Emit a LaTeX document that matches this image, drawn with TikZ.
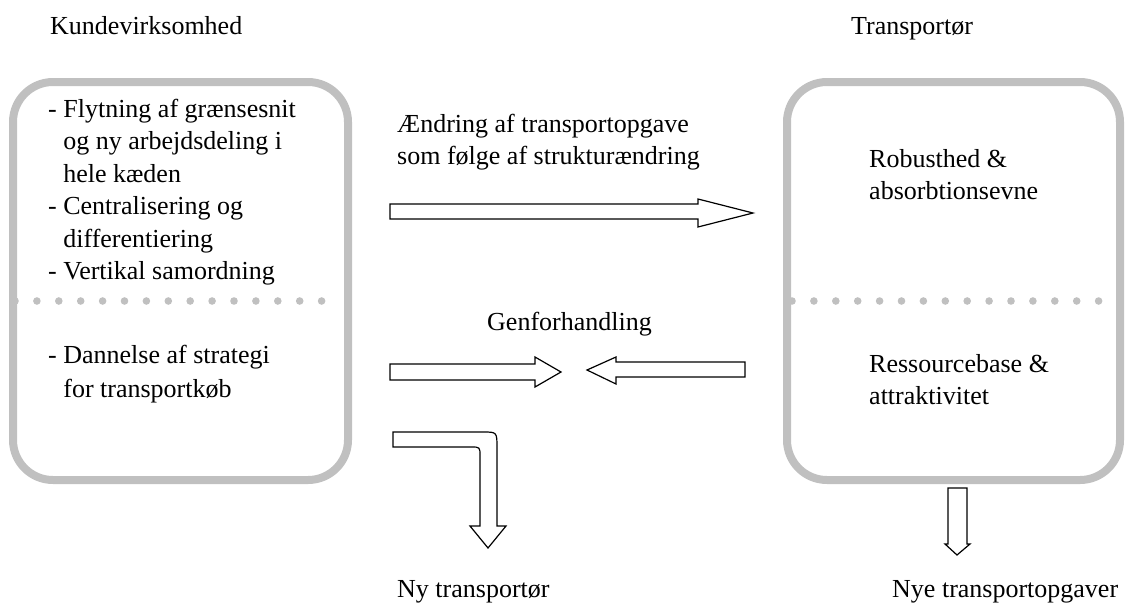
\documentclass[tikz,border=0pt]{standalone}
\usepackage{fontspec}
\setmainfont{Liberation Serif}
\usetikzlibrary{positioning}
\definecolor{panelgray}{HTML}{C0C0C0}

\begin{document}
\begin{tikzpicture}[
  x=1pt, y=-1pt,
  font=\fontsize{26}{32.5}\selectfont,
  panel/.style={draw=panelgray, line width=8pt, rounded corners=40pt, minimum width=335pt, minimum height=398pt, inner sep=0pt},
  txt/.style={anchor=base west, inner sep=0pt},
  blockarr/.style={draw=black, line width=1.2pt, fill=white, line join=miter}
]
\useasboundingbox (0,0) rectangle (1136,603);

% titles
\node[txt] (kundetitle) at (50,34) {Kundevirksomhed};
\node[txt] (transtitle) at (851,34) {Transportør};

% the two panels
\node[panel] (kunde) at (180.5,281) {};
\node[panel, minimum width=333pt] (trans) at (953.5,281) {};
\foreach \i in {0,...,14} {
  \fill[panelgray] ({15+21.9*\i},301) circle (3.8pt);
  \fill[panelgray] ({792+21.9*\i},301) circle (3.8pt);
}

% panel texts
\node[txt] (struktur) at (48,117) {\begin{tabular}[t]{@{}l@{}}
- Flytning af grænsesnit\\
\phantom{- }og ny arbejdsdeling i\\
\phantom{- }hele kæden\\
- Centralisering og\\
\phantom{- }differentiering\\
- Vertikal samordning
\end{tabular}};
\node[txt] (strategi) at (48,363) {\begin{tabular}[t]{@{}l@{}}
- Dannelse af strategi\\[2pt]
\phantom{- }for transportkøb
\end{tabular}};
\node[txt] (robust) at (869,167) {\begin{tabular}[t]{@{}l@{}}
Robusthed \&\\
absorbtionsevne
\end{tabular}};
\node[txt] (ressource) at (869,372) {\begin{tabular}[t]{@{}l@{}}
Ressourcebase \&\\
attraktivitet
\end{tabular}};

% arrow labels
\node[txt] (aendring) at (397,132) {\begin{tabular}[t]{@{}l@{}}
Ændring af transportopgave\\
som følge af strukturændring
\end{tabular}};
\node[txt] (genf) at (487,330) {Genforhandling};
\node[txt] (nytrans) at (397,597) {Ny transportør};
\node[txt] (nyeopg) at (892,597) {Nye transportopgaver};

% block arrows
\draw[blockarr] (390,204) -- (698,204) -- (698,199) -- (753,213) -- (698,227) -- (698,219) -- (390,219) -- cycle;
\draw[blockarr] (390,364) -- (535,364) -- (535,357) -- (561,372) -- (535,387) -- (535,380) -- (390,380) -- cycle;
\draw[blockarr] (745,362) -- (616,362) -- (616,357) -- (587,370) -- (616,384) -- (616,377) -- (745,377) -- cycle;
\draw[blockarr] (393,432) -- (483,432) .. controls (497,432) .. (497,448) -- (497,526) -- (506,526) -- (488,548)
  -- (470,526) -- (480,526) -- (480,456) .. controls (480,447) .. (471,447) -- (393,447) -- cycle;
\draw[blockarr] (948,488) -- (948,544) -- (945,544) -- (957,555) -- (970,544) -- (967,544) -- (967,488) -- cycle;
\end{tikzpicture}
\end{document}
